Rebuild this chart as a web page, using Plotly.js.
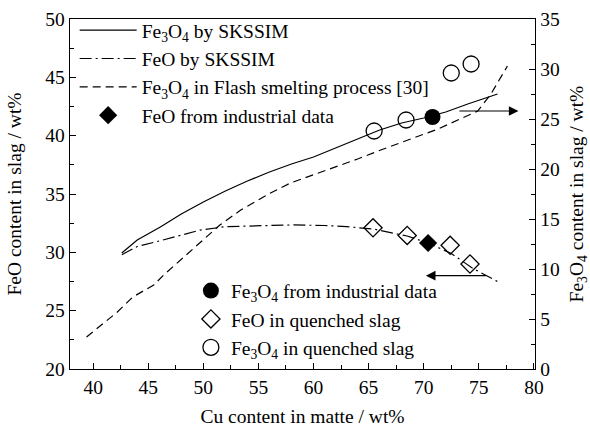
<!DOCTYPE html>
<html>
<head>
<meta charset="utf-8">
<script src="https://cdn.plot.ly/plotly-3.0.1.min.js"></script>
<style>
html,body{margin:0;padding:0;background:#fff;}
.c{width:590px;height:427px;}
</style>
</head>
<body>
<div id="a" class="c"></div>
<script>
// Fe3O4 by SKSSIM (right axis)
const fe3o4ModelX = [42.6, 44.0, 46.1, 48.0, 50.0, 52.0, 54.0, 56.0, 58.0, 60.0, 62.0, 64.0, 66.0, 68.0, 70.0, 72.0, 74.0, 76.7];
const fe3o4ModelY = [11.6, 12.9, 14.2, 15.5, 16.7, 17.8, 18.8, 19.7, 20.5, 21.2, 22.1, 23.0, 23.9, 24.6, 25.1, 25.7, 26.5, 27.5];
// FeO by SKSSIM (left axis)
const feoModelX = [42.6, 44.0, 46.1, 48.0, 49.7, 52.0, 55.0, 58.0, 61.0, 63.0, 65.4, 68.5, 70.4, 72.5, 74.5, 76.7];
const feoModelY = [29.8, 30.5, 31.0, 31.5, 31.9, 32.2, 32.3, 32.35, 32.3, 32.2, 32.0, 31.4, 30.8, 29.9, 28.6, 27.5];
// Fe3O4 in flash smelting process [30] (right axis)
const flashX = [39.4, 42.2, 43.6, 45.5, 46.4, 49.7, 51.5, 53.4, 56.1, 57.9, 60.0, 64.0, 66.1, 71.3, 74.9, 76.1, 77.6];
const flashY = [3.2, 5.7, 7.2, 8.4, 9.4, 12.6, 14.4, 15.9, 17.6, 18.6, 19.4, 21.0, 21.9, 24.0, 25.8, 27.5, 30.3];
// Measured points
const feoIndX = [70.4];
const feoIndY = [30.8];
const fe3o4IndX = [70.8];
const fe3o4IndY = [25.2];
const feoQuenchX = [65.4, 68.5, 72.4, 74.2];
const feoQuenchY = [32.1, 31.45, 30.6, 29.0];
const fe3o4QuenchX = [65.5, 68.4, 72.5, 74.3];
const fe3o4QuenchY = [23.8, 24.9, 29.6, 30.5];
// Arrows: [tailX, headX, y]
const arrowRight = [73.1, 78.6, 25.8];
const arrowLeft = [75.8, 70.2, 28.0];
// Axis ticks
const xTicks = [40, 45, 50, 55, 60, 65, 70, 75, 80];
const yTicks = [20, 25, 30, 35, 40, 45, 50];
const y2Ticks = [0, 5, 10, 15, 20, 25, 30, 35];

function build() {
  const fnt = {family: 'Liberation Serif', size: 19.5, color: '#000'};
  const ink = '#000';
  const traces = [
    {x: fe3o4ModelX, y: fe3o4ModelY, yaxis: 'y2', mode: 'lines', name: 'Fe<sub>3</sub>O<sub>4</sub> by SKSSIM',
     line: {color: ink, width: 1.2}, legend: 'legend'},
    {x: feoModelX, y: feoModelY, mode: 'lines', name: 'FeO by SKSSIM',
     line: {color: ink, width: 1.2, dash: '12px,4px,2px,4px'}, legend: 'legend'},
    {x: flashX, y: flashY, yaxis: 'y2', mode: 'lines', name: 'Fe<sub>3</sub>O<sub>4</sub> in Flash smelting process [30]',
     line: {color: ink, width: 1.2, dash: '8px,5px'}, legend: 'legend'},
    {x: feoIndX, y: feoIndY, mode: 'markers', name: 'FeO from industrial data',
     marker: {symbol: 'diamond', size: 14, color: ink}, legend: 'legend'},
    {x: fe3o4IndX, y: fe3o4IndY, yaxis: 'y2', mode: 'markers', name: 'Fe<sub>3</sub>O<sub>4</sub> from industrial data',
     marker: {symbol: 'circle', size: 16, color: ink}, legend: 'legend2'},
    {x: feoQuenchX, y: feoQuenchY, mode: 'markers', name: 'FeO in quenched slag',
     marker: {symbol: 'diamond-open', size: 14, color: ink, line: {width: 1.3}}, legend: 'legend2'},
    {x: fe3o4QuenchX, y: fe3o4QuenchY, yaxis: 'y2', mode: 'markers', name: 'Fe<sub>3</sub>O<sub>4</sub> in quenched slag',
     marker: {symbol: 'circle-open', size: 16, color: ink, line: {width: 1.3}}, legend: 'legend2'}
  ];
  const ax = {showline: true, ticks: 'inside', tickfont: fnt, showgrid: false, zeroline: false,
              linecolor: ink, linewidth: 1.3, ticklen: 6, tickcolor: ink,
              minor: {ticks: 'inside', dtick: 2.5, ticklen: 4, tickcolor: ink}};
  const layout = {
    width: 590, height: 427, margin: {l: 70, r: 55, t: 18, b: 58},
    font: fnt,
    xaxis: Object.assign({}, ax, {range: [37.9, 80.1], tickvals: xTicks, mirror: true,
      title: {text: 'Cu content in matte / wt%', font: fnt}}),
    yaxis: Object.assign({}, ax, {range: [20, 50], tickvals: yTicks,
      title: {text: 'FeO content in slag / wt%', font: fnt}}),
    yaxis2: Object.assign({}, ax, {range: [0, 35], tickvals: y2Ticks, overlaying: 'y', side: 'right',
      title: {text: 'Fe<sub>3</sub>O<sub>4</sub> content in slag / wt%', font: fnt}}),
    legend: {x: 0.01, y: 1.02, yanchor: 'top', font: fnt, itemwidth: 57, bgcolor: 'rgba(0,0,0,0)'},
    legend2: {x: 0.26, y: 0.278, yanchor: 'top', font: fnt, bgcolor: 'rgba(0,0,0,0)'},
    showlegend: true,
    annotations: [
      {x: arrowRight[1], y: arrowRight[2], ax: arrowRight[0], ay: arrowRight[2], xref: 'x', yref: 'y2',
       axref: 'x', ayref: 'y2', showarrow: true, arrowhead: 2, arrowsize: 1.6, arrowwidth: 1.2, arrowcolor: ink, text: ''},
      {x: arrowLeft[1], y: arrowLeft[2], ax: arrowLeft[0], ay: arrowLeft[2], xref: 'x', yref: 'y',
       axref: 'x', ayref: 'y', showarrow: true, arrowhead: 2, arrowsize: 1.6, arrowwidth: 1.2, arrowcolor: ink, text: ''}
    ]
  };
  return [traces, layout];
}
const fig = build();
Plotly.newPlot('a', fig[0], fig[1], {displayModeBar: false, staticPlot: true});
</script>
</body>
</html>
